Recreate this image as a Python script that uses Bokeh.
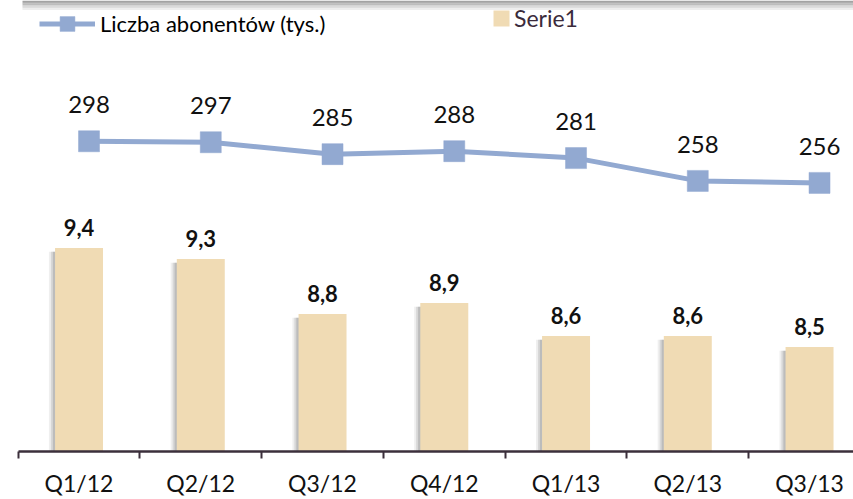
from bokeh.plotting import figure
from bokeh.models import (ColumnDataSource, Range1d, FixedTicker, LabelSet,
                          Legend, LegendItem, BoxAnnotation)
from bokeh.core.properties import value
from bokeh.transform import dodge
from bokeh.embed import file_html
from bokeh.resources import INLINE

# ---- data ----
categories = ["Q1/12", "Q2/12", "Q3/12", "Q4/12", "Q1/13", "Q2/13", "Q3/13"]
arpu = [9.4, 9.3, 8.8, 8.9, 8.6, 8.6, 8.5]          # Serie1 (bars)
subscribers = [298, 297, 285, 288, 281, 258, 256]   # Liczba abonentów (tys.)

idx = list(range(len(categories)))
src = ColumnDataSource(dict(
    x=idx,
    cat=categories,
    arpu=arpu,
    arpu_lbl=[f"{v:.1f}".replace(".", ",") for v in arpu],
    subs=subscribers,
    subs_lbl=[str(v) for v in subscribers],
))

BAR = "#F0DBB4"
LINE = "#92A9D1"
AXIS = "#3B2F3B"
FONT = "Lato"

W, H = 853, 499
x0, x1 = -0.645, 6.361
y0, y1 = 7.55, 11.649
PX_X = 1 / 121.75   # data units per pixel (x)
PX_Y = 1 / 111.0    # data units per pixel (bars y)

p = figure(width=W, height=H, x_range=Range1d(x0, x1), y_range=Range1d(y0, y1),
           output_backend="svg", toolbar_location=None, y_axis_location=None,
           min_border_left=0, min_border_right=0, min_border_top=0,
           min_border_bottom=44, outline_line_color=None,
           background_fill_color="white", border_fill_color="white")
p.grid.visible = False

# decorative shadowed edge of a box at the very top
for k, c in enumerate(["#A3A3A3", "#AFAFAF", "#BDBDBD", "#CDCDCD", "#DEDEDE", "#EEEEEE"]):
    p.add_layout(BoxAnnotation(left=x0 + 22 * PX_X, right=x1,
                               top=y1 - k * 1.6 * PX_Y, bottom=y1 - (k + 1) * 1.6 * PX_Y,
                               fill_color=c, fill_alpha=1, line_color=None, level="underlay"))

# secondary ranges for the line series (shifted slightly right, own value scale)
p.extra_x_ranges = {"lx": Range1d(x0 - 0.082, x1 - 0.082)}
p.extra_y_ranges = {"ly": Range1d(-15, 440),
                    "shadow": Range1d(y0 + 0.035, y1 + 0.035)}

# bar shadows
for off, a in [(-0.050, 0.10), (-0.034, 0.16), (-0.018, 0.22)]:
    p.vbar(x=dodge("x", off, range=p.x_range), top="arpu", bottom=y0 + 0.035,
           width=0.394, source=src, fill_color="#606060", fill_alpha=a,
           line_color=None, y_range_name="shadow")

bars = p.vbar(x="x", top="arpu", bottom=y0, width=0.394, source=src,
              fill_color=BAR, line_color=None)

ln = p.line(x="x", y="subs", source=src, line_color=LINE, line_width=5,
            x_range_name="lx", y_range_name="ly")
mk = p.scatter(x="x", y="subs", source=src, marker="square", size=21,
               fill_color=LINE, line_color=LINE, line_width=0.5,
               x_range_name="lx", y_range_name="ly")

p.add_layout(LabelSet(x="x", y="subs", text="subs_lbl", source=src,
                      x_range_name="lx", y_range_name="ly",
                      text_align="center", text_baseline="alphabetic",
                      y_offset=28, text_font=value(FONT), text_font_size="24px",
                      text_color="#111111"))
p.add_layout(LabelSet(x="x", y="arpu", text="arpu_lbl", source=src,
                      text_align="center", text_baseline="alphabetic",
                      y_offset=12, text_font=value(FONT), text_font_size="22px",
                      text_font_style="bold", text_color="#111111"))

# x axis
ax = p.xaxis[0]
ax.ticker = FixedTicker(ticks=idx, minor_ticks=[i - 0.5 for i in range(len(categories) + 1)])
ax.major_label_overrides = {i: c for i, c in zip(idx, categories)}
ax.bounds = (-0.5, x1)
ax.axis_line_color = AXIS
ax.axis_line_width = 2.5
ax.major_tick_line_color = None
ax.major_tick_out = 0
ax.major_tick_in = 0
ax.minor_tick_line_color = AXIS
ax.minor_tick_line_width = 2
ax.minor_tick_out = 7
ax.minor_tick_in = 0
ax.major_label_standoff = 10
ax.major_label_text_font = FONT
ax.major_label_text_font_size = "23px"
ax.major_label_text_color = "#111111"

# legends
leg1 = Legend(items=[LegendItem(label="Liczba abonentów (tys.)", renderers=[ln, mk])],
              location=(39, 409), orientation="horizontal", padding=0, margin=0,
              glyph_width=56, glyph_height=37, label_standoff=5,
              label_text_font=FONT, label_text_font_size="22px",
              label_text_color="#000000", border_line_color=None,
              background_fill_alpha=0)
leg2 = Legend(items=[LegendItem(label="Serie1", renderers=[bars])],
              location=(491, 419), orientation="horizontal", padding=0, margin=0,
              glyph_width=20, glyph_height=20, label_standoff=3,
              label_text_font=FONT, label_text_font_size="23px",
              label_text_color="#3B2B3B", border_line_color=None,
              background_fill_alpha=0)
p.add_layout(leg1)
p.add_layout(leg2)

open("out.html", "w").write(file_html(p, INLINE))
